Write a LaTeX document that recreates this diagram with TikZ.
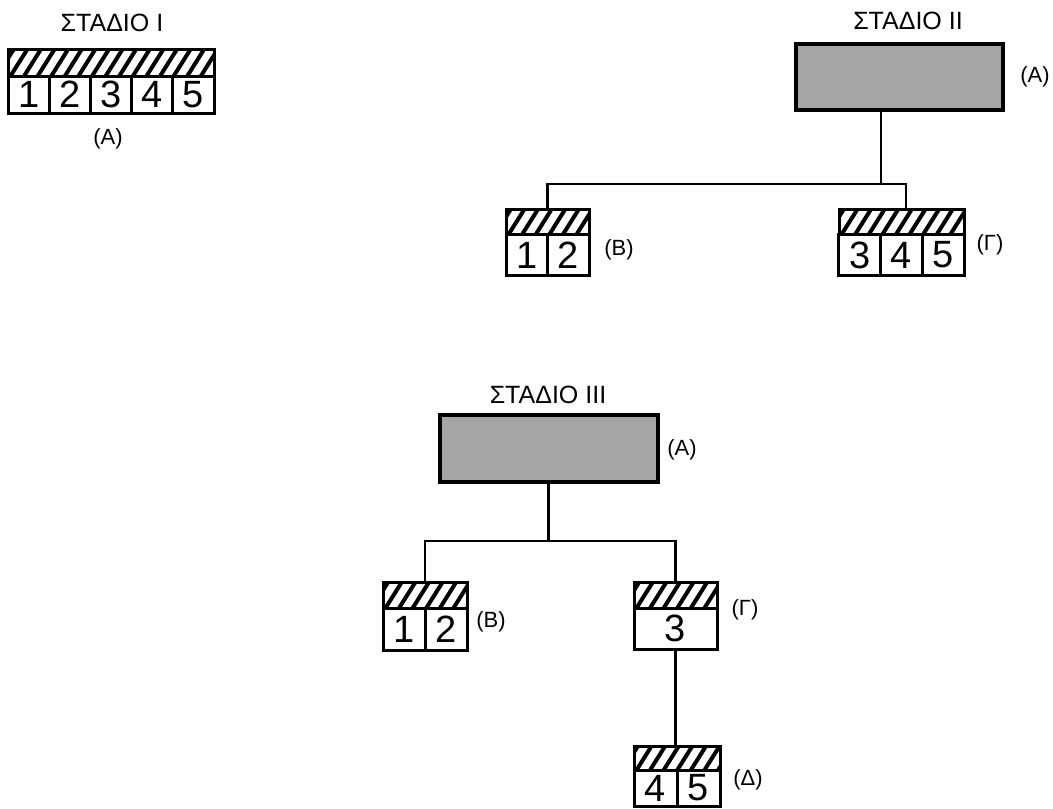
\documentclass[tikz,border=0pt]{standalone}
\usepackage{fontspec}
\setmainfont{Liberation Sans}
\usepackage{tikz}
\usetikzlibrary{positioning, calc}
\definecolor{StippleGrey}{RGB}{165, 165, 165}

\tikzset{
  stagetitle/.style={font=\fontsize{25}{28}\selectfont},
  tag/.style={font=\fontsize{22}{24}\selectfont},
  hatchbar/.style={draw, line width=3pt, inner sep=0pt, fill=white,
    path picture={
      \foreach \k in {-3,...,18}
        \draw[line width=4pt] ([xshift=\k*13.6pt, yshift=-4pt]path picture bounding box.south west) -- ++(22pt,35pt);
    }},
  cell/.style={draw, line width=3pt, inner sep=0pt, font=\fontsize{38}{40}\selectfont},
  greybox/.style={draw, line width=3.4pt, fill=StippleGrey},
  link/.style={line width=2.6pt}
}

\begin{document}
\begin{tikzpicture}[x=1pt, y=-1pt]
  \useasboundingbox (0,0) rectangle (1053,809);

  % Stage I
  \node[stagetitle] (t1) at (112,23) {ΣΤΑΔΙΟ I};
  \node[hatchbar, minimum width=206pt, minimum height=27pt] (A1h) at (111,62.5) {};
  \foreach \n [count=\i from 0] in {1,...,5}
    \node[cell, minimum width=41.2pt, minimum height=37pt] (A1c\n) at ({28.6+41.2*\i},94.5) {\n};
  \node[tag] (A1l) at (108,139) {(A)};

  % Stage II
  \node[stagetitle] (t2) at (908,21) {ΣΤΑΔΙΟ II};
  \node[greybox, minimum width=207pt, minimum height=66pt] (A2) at (899.5,77) {};
  \node[tag] (A2l) at (1035,77) {(A)};
  \coordinate (J2) at (881,184);

  \node[hatchbar, minimum width=83pt, minimum height=25pt] (B2h) at (547.5,222) {};
  \foreach \n [count=\i from 0] in {1,2}
    \node[cell, minimum width=41.5pt, minimum height=41pt] (B2c\n) at ({526.75+41.5*\i},255) {\n};
  \node[tag] (B2l) at (619,250) {(Β)};

  \node[hatchbar, minimum width=125pt, minimum height=25pt] (G2h) at (901.5,222) {};
  \foreach \n [count=\i from 0] in {3,4,5}
    \node[cell, minimum width=41.7pt, minimum height=41pt] (G2c\n) at ({859.8+41.7*\i},255) {\n};
  \node[tag] (G2l) at (990,245) {(Γ)};

  \draw[link] (A2.south -| J2) -- (J2);
  \draw[link] (B2h.north) |- (J2) -| ([xshift=4.5pt]G2h.north);

  % Stage III
  \node[stagetitle] (t3) at (548,395) {ΣΤΑΔΙΟ III};
  \node[greybox, minimum width=218pt, minimum height=67pt] (A3) at (549,448.5) {};
  \node[tag] (A3l) at (682,450) {(A)};
  \coordinate (J3) at (548.5,541);

  \node[hatchbar, minimum width=84pt, minimum height=26pt] (B3h) at (425,595) {};
  \foreach \n [count=\i from 0] in {1,2}
    \node[cell, minimum width=42pt, minimum height=42pt] (B3c\n) at ({404+42*\i},629) {\n};
  \node[tag] (B3l) at (491,622) {(Β)};

  \node[hatchbar, minimum width=83pt, minimum height=26pt] (G3h) at (675.5,595) {};
  \node[cell, minimum width=83pt, minimum height=41pt] (G3c3) at (675.5,628.5) {3};
  \node[tag] (G3l) at (745,610) {(Γ)};

  \node[hatchbar, minimum width=86pt, minimum height=24pt] (D3h) at (677,758) {};
  \foreach \n [count=\i from 0] in {4,5}
    \node[cell, minimum width=43pt, minimum height=36pt] (D3c\n) at ({655.5+43*\i},788) {\n};
  \node[tag] (D3l) at (748,780) {(Δ)};

  \draw[link] (A3.south -| J3) -- (J3);
  \draw[link] (B3h.north) |- (J3) -| (G3h.north);
  \draw[link] (G3c3.south) -- (G3c3.south |- D3h.north);
\end{tikzpicture}
\end{document}
